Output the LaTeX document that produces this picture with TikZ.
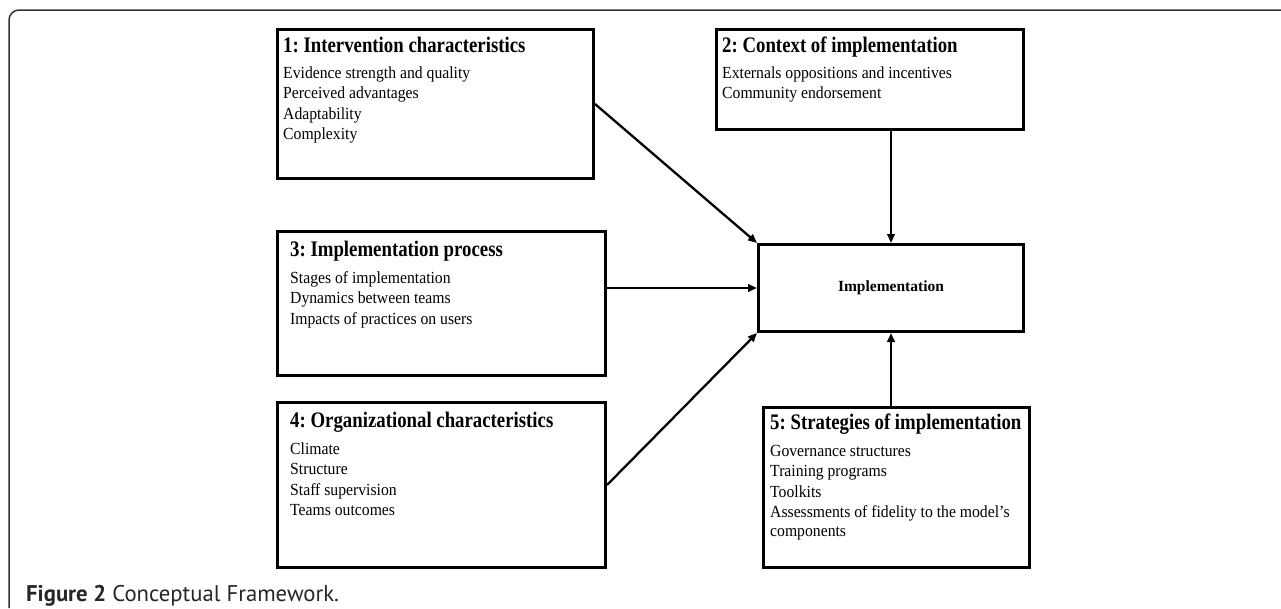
\documentclass[tikz,border=0pt]{standalone}
\usepackage{fontspec}
\usepackage{graphicx}
\setmainfont{Liberation Serif}
\newfontfamily\capfont{PT Sans}
\usetikzlibrary{arrows.meta}
\frenchspacing
\newcommand{\ttlstretch}[1]{\scalebox{1}[1.18]{#1}}
\newcommand{\lnstretch}[1]{\scalebox{1}[1.08]{#1}}
\begin{document}
\begin{tikzpicture}[x=1pt,y=-1pt,
  box/.style={draw=black, line width=3pt, rectangle, inner sep=0pt, anchor=north west},
  ttl/.style={anchor=base west, inner sep=0pt, font=\frenchspacing\bfseries\fontsize{18.8}{22}\selectfont},
  ln/.style={anchor=base west, inner sep=0pt, font=\frenchspacing\fontsize{15.7}{18}\selectfont},
  arr/.style={line width=2.3pt, -{Triangle[length=9pt,width=7.5pt]}},
]
\useasboundingbox (0,0) rectangle (1281,608);
\fill[white] (0,0) rectangle (1281,608);
% outer frame
\draw[line width=1.5pt, black!80, rounded corners=10pt] (9,608) -- (9,10) -- (1281,10);

% boxes
\node[box, minimum width=316pt, minimum height=149pt] (b1) at (276,28) {};
\node[box, minimum width=307pt, minimum height=100pt] (b2) at (715,28) {};
\node[box, minimum width=328pt, minimum height=144pt] (b3) at (276,230) {};
\node[box, minimum width=328pt, minimum height=165pt] (b4) at (276,401) {};
\node[box, minimum width=265pt, minimum height=87pt] (impl) at (757,243) {};
\node[box, minimum width=266pt, minimum height=160pt] (b5) at (762,406) {};

% box 1 text
\node[ttl] (t1) at (283,52) {\ttlstretch{1: Intervention characteristics}};
\node[ln] (l11) at (283,78) {\lnstretch{Evidence strength and quality}};
\node[ln] (l12) at (283,98.5) {\lnstretch{Perceived advantages}};
\node[ln] (l13) at (283,119) {\lnstretch{Adaptability}};
\node[ln] (l14) at (283,139.5) {\lnstretch{Complexity}};

% box 2 text
\node[ttl] (t2) at (722,52) {\ttlstretch{2: Context of implementation}};
\node[ln] (l21) at (722,78) {\lnstretch{Externals oppositions and incentives}};
\node[ln] (l22) at (722,98.5) {\lnstretch{Community endorsement}};

% box 3 text
\node[ttl] (t3) at (290,256) {\ttlstretch{3: Implementation process}};
\node[ln] (l31) at (290,283) {\lnstretch{Stages of implementation}};
\node[ln] (l32) at (290,303.5) {\lnstretch{Dynamics between teams}};
\node[ln] (l33) at (290,324) {\lnstretch{Impacts of practices on users}};

% box 4 text
\node[ttl] (t4) at (290,427) {\ttlstretch{4: Organizational characteristics}};
\node[ln] (l41) at (290,454) {\lnstretch{Climate}};
\node[ln] (l42) at (290,474.5) {\lnstretch{Structure}};
\node[ln] (l43) at (290,495) {\lnstretch{Staff supervision}};
\node[ln] (l44) at (290,515.5) {\lnstretch{Teams outcomes}};

% box 5 text
\node[ttl] (t5) at (770,429) {\ttlstretch{5: Strategies of implementation}};
\node[ln] (l51) at (770,456) {\lnstretch{Governance structures}};
\node[ln] (l52) at (770,476.5) {\lnstretch{Training programs}};
\node[ln] (l53) at (770,497) {\lnstretch{Toolkits}};
\node[ln] (l54) at (770,517.5) {\lnstretch{Assessments of fidelity to the model’s}};
\node[ln] (l55) at (770,536) {\lnstretch{components}};

% implementation label
\node[inner sep=0pt, font=\bfseries\fontsize{15.5}{18}\selectfont] (ti) at (impl.center) {Implementation};

% arrows
\draw[arr] (b1.east) -- (impl.north west);
\draw[arr] (b2.south -| impl.north) -- (impl.north);
\draw[arr] (b3.east |- impl.west) -- (impl.west);
\draw[arr] (b4.east) -- (impl.south west);
\draw[arr] (b5.north -| impl.south) -- (impl.south);

% caption
\node[anchor=base west, inner sep=0pt, font=\capfont\fontsize{22.7}{26}\selectfont, text=black!85] (cap) at (26,601) {\textbf{Figure 2} Conceptual Framework.};
\end{tikzpicture}
\end{document}
